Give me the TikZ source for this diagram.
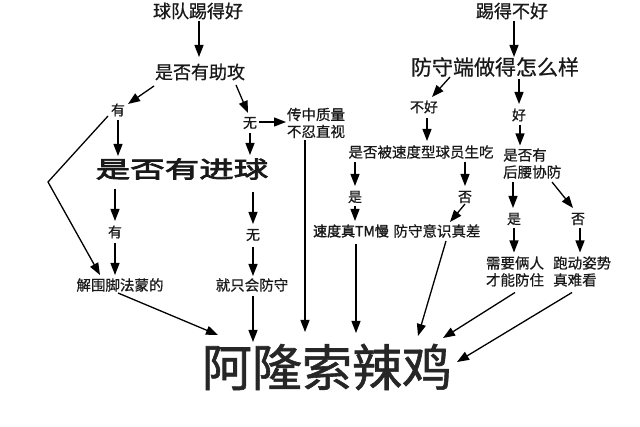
\documentclass[tikz,border=0pt]{standalone}
\usepackage{fontspec}
\setmainfont[FakeBold=0.7]{Noto Sans CJK SC}
\newfontfamily\cjkbold[FakeBold=2]{Noto Sans CJK SC}
\newfontfamily\cjkbig[FakeBold=1.2]{Noto Sans CJK SC}
\newfontfamily\cjkheavy[FakeBold=3.5,FakeStretch=1.5]{Noto Sans CJK SC}
\usetikzlibrary{arrows.meta,calc}
\begin{document}
\begin{tikzpicture}[x=1pt,y=-1pt,
  lbl/.style={inner sep=0pt,text=black!90},
  head/.style={lbl,font=\fontsize{18pt}{21pt}\selectfont},
  body/.style={lbl,font=\fontsize{14.5pt}{17pt}\selectfont},
  small/.style={lbl,font=\fontsize{14pt}{17pt}\selectfont},
  arr/.style={draw=black,line width=1.3pt,-{Triangle[length=12pt,width=9pt]}},
  ln/.style={draw=black,line width=1.3pt}]
\fill[white] (0,0) rectangle (640,427);
\useasboundingbox (0,0) rectangle (640,427);

% left branch
\node[head] (t1) at (198,11) {球队踢得好};
\node[head] (t2) at (200,72) {是否有助攻};
\node[small] (you1) at (118,110) {有};
\node[small] (wu1) at (250,123) {无};
\node[body,align=center] (cz) at (316,123) {传中质量\\不忍直视};
\node[lbl,font=\cjkheavy\fontsize{23pt}{26pt}\selectfont] (jq) at (182,169) {是否有进球};
\node[small] (you2) at (115,232) {有};
\node[small] (wu2) at (253,235) {无};
\node[body] (jw) at (120,285) {解围脚法蒙的};
\node[body] (js) at (252,285) {就只会防守};

% right branch
\node[head] (t3) at (512,11) {踢得不好};
\node[lbl,font=\fontsize{21pt}{24pt}\selectfont] (fs) at (495,67) {防守端做得怎么样};
\node[small] (bh) at (424,107) {不好};
\node[small] (hao) at (519,115) {好};
\node[body] (sp) at (421,152) {是否被速度型球员生吃};
\node[body,align=left,anchor=west] (hy) at (503,163.5) {是否有\\后腰协防};
\node[small] (shi1) at (355,197) {是};
\node[small] (fou1) at (465,197) {否};
\node[lbl,font=\cjkbold\fontsize{14pt}{17pt}\selectfont] (sd) at (351,231) {速度真TM慢};
\node[body] (fy) at (437,231) {防守意识真差};
\node[small] (shi2) at (514,219) {是};
\node[small] (fou2) at (578,219) {否};
\node[body,align=center] (xy) at (515,271.5) {需要俩人\\才能防住};
\node[body,align=left,anchor=west] (pd) at (553,271.5) {跑动姿势\\真难看};

\node[inner sep=0pt,text=black!85,font=\cjkbig\fontsize{50pt}{56pt}\selectfont] (al) at (327,367) {阿隆索辣鸡};

\coordinate (corner) at (48,182);

% connectors left
\draw[arr] ($(t1)+(1,10)$) -- ($(t2)+(-1,-15)$);
\draw[arr] ($(t2)+(-46,14)$) -- ($(you1)+(10,-6)$);
\draw[arr] ($(t2)+(36,13)$) -- ($(wu1)+(-2,-10)$);
\draw[arr] ($(wu1)+(9,-1)$) -- ($(cz)+(-30,-1)$);
\draw[arr] ($(you1)+(0,10)$) -- ($(jq)+(-64,-13)$);
\draw[arr] ($(wu1)+(0,10)$) -- ($(jq)+(68,-14)$);
\draw[arr] ($(you1)+(-10,6)$) -- (corner) -- ($(jw)+(-20,-10)$);
\draw[arr] ($(jq)+(-67,20)$) -- ($(you2)+(0,-11)$);
\draw[arr] ($(you2)+(0,11)$) -- ($(jw)+(-5,-10)$);
\draw[arr] ($(jq)+(71,23)$) -- ($(wu2)+(0,-11)$);
\draw[arr] ($(wu2)+(0,12)$) -- ($(js)+(1,-9)$);
\draw[arr] ($(jw)+(-2,8)$) -- ($(al)+(-109,-32)$);
\draw[arr] ($(js)+(1,11)$) -- ($(al)+(-74,-25)$);
\draw[arr] ($(cz)+(-11,17)$) -- ($(al)+(-22,-35)$);

% connectors right
\draw[arr] ($(t3)+(2,10)$) -- ($(fs)+(19,-10)$);
\draw[arr] ($(fs)+(-45,10)$) -- ($(bh)+(8,-10)$);
\draw[arr] ($(fs)+(24,12)$) -- ($(hao)+(0,-11)$);
\draw[arr] ($(bh)+(3,11)$) -- ($(sp)+(6,-11)$);
\draw[arr] ($(hao)+(1,10)$) -- ($(hy.west)+(17,-18)$);
\draw[arr] ($(sp)+(-66,10)$) -- ($(shi1)+(0,-11)$);
\draw[arr] ($(shi1)+(0,9)$) -- ($(sd)+(4,-10)$);
\draw[arr] ($(sp)+(44,10)$) -- ($(fou1)+(0,-11)$);
\draw[arr] ($(fou1)+(0,7)$) -- ($(fy)+(13,-9)$);
\draw[arr] ($(sd)+(5,13)$) -- ($(al)+(29,-34)$);
\draw[arr] ($(fy)+(9,10)$) -- ($(al)+(91,-31)$);
\draw[arr] ($(hy.west)+(10,18.5)$) -- ($(shi2)+(-1,-11)$);
\draw[arr] ($(hy.west)+(49,18.5)$) -- ($(fou2)+(-5,-11)$);
\draw[arr] ($(shi2)+(0,9)$) -- ($(xy)+(-1,-19)$);
\draw[arr] ($(fou2)+(2,9)$) -- ($(pd.west)+(27,-19)$);
\draw[arr] ($(xy)+(0,21)$) -- ($(al)+(116,-29)$);
\draw[arr] ($(pd.west)+(19,21)$) -- ($(al)+(130,-5)$);
\end{tikzpicture}
\end{document}
